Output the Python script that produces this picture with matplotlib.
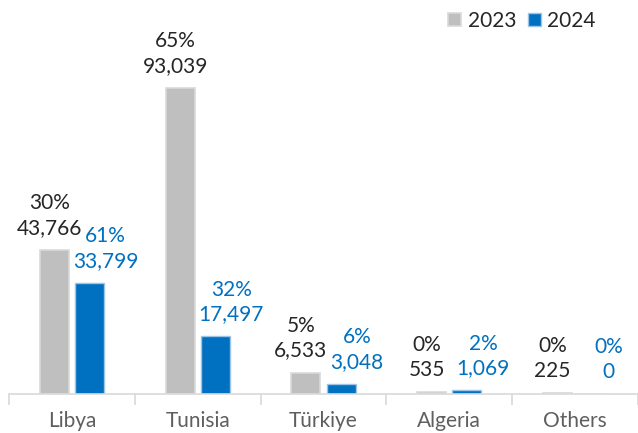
import matplotlib
matplotlib.use('Agg')
import matplotlib.pyplot as plt
import numpy as np

plt.rcParams['font.family'] = ['Lato', 'DejaVu Sans']

# data
categories = ['Libya', 'Tunisia', 'Türkiye', 'Algeria', 'Others']
vals_2023 = [43766, 93039, 6533, 535, 225]
vals_2024 = [33799, 17497, 3048, 1069, 0]
pct_2023 = ['30%', '65%', '5%', '0%', '0%']
pct_2024 = ['61%', '32%', '6%', '2%', '0%']

grey = '#BFBFBF'
blue = '#0070C0'

fig = plt.figure(figsize=(6.38, 4.33), dpi=100)
ax = fig.add_axes([9/638, 39/433, 629/638, 394/433])

x = np.arange(len(categories))
w = 0.23
off = 0.14
ax.bar(x - off, vals_2023, w, color=grey, edgecolor='#D9D9D9', linewidth=1.2, label='2023')
ax.bar(x + off, vals_2024, w, color=blue, edgecolor='#9DC3E6', linewidth=1.0, label='2024')

# data labels
for i in range(len(categories)):
    ax.annotate(f'{pct_2023[i]}\n{vals_2023[i]:,}', (x[i] - off, vals_2023[i]),
                xytext=(-5, 12), textcoords='offset pixels', ha='center', va='bottom',
                fontsize=15, color='#262626', linespacing=1.3)
    ax.annotate(f'{pct_2024[i]}\n{vals_2024[i]:,}', (x[i] + off, vals_2024[i]),
                xytext=(16, 12), textcoords='offset pixels', ha='center', va='bottom',
                fontsize=15, color=blue, linespacing=1.3)

ax.set_xlim(-0.5, 4.5)
ax.set_ylim(0, 93039 * 394 / 306)

for s in ['top', 'right', 'left']:
    ax.spines[s].set_visible(False)
ax.spines['bottom'].set_color('#D9D9D9')
ax.spines['bottom'].set_linewidth(1.2)
ax.set_yticks([])

ax.set_xticks(x)
ax.set_xticklabels(categories, fontsize=15, color='#5f5f5f')
ax.tick_params(axis='x', which='major', length=0, pad=12)
ax.set_xticks(np.arange(-0.5, 5.0, 1.0), minor=True)
ax.tick_params(axis='x', which='minor', length=8, color='#D9D9D9', width=1.2)

ax.legend(loc='upper right', bbox_to_anchor=(596/638, 1 - 11/433),
          bbox_transform=fig.transFigure, ncol=2, frameon=False,
          fontsize=15, handlelength=0.62, handleheight=0.62, handletextpad=0.33,
          columnspacing=0.55, labelcolor='#262626', borderaxespad=0, borderpad=0)

fig.savefig('out.png', dpi=100)
